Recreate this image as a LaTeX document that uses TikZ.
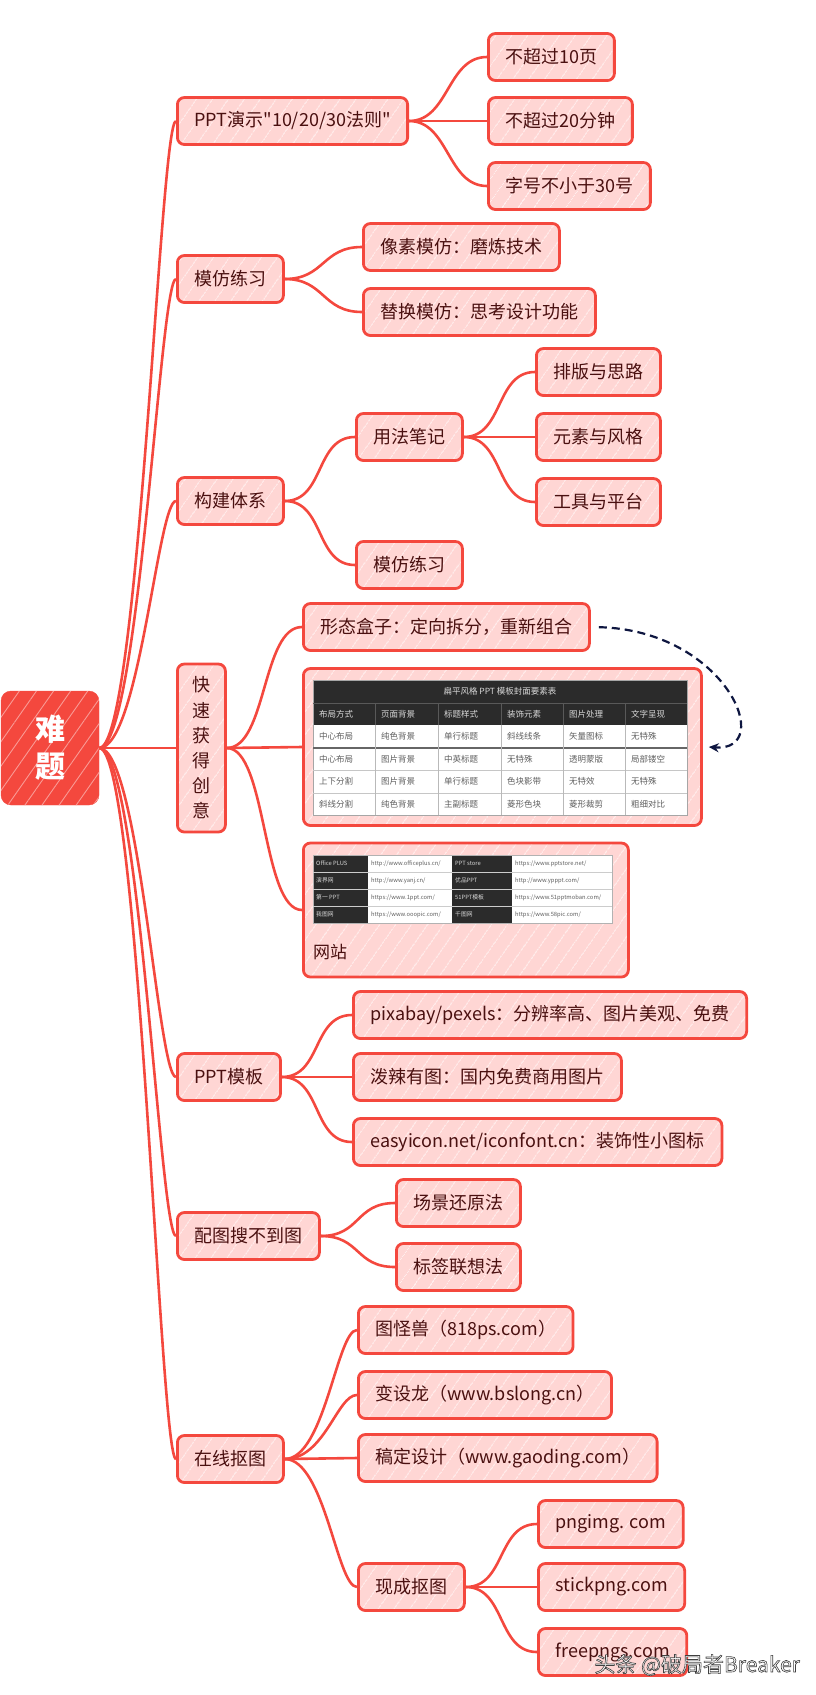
\documentclass[tikz,border=0pt]{standalone}
\usepackage{fontspec}
\setmainfont{Noto Sans CJK SC}[Ligatures=TeXOff]
\usetikzlibrary{patterns.meta,arrows.meta}
\definecolor{mmred}{RGB}{244,72,62}
\definecolor{mmpink}{RGB}{255,214,212}
\definecolor{mmtext}{RGB}{74,16,16}
\definecolor{mmnavy}{RGB}{14,22,64}
\definecolor{tbldark}{RGB}{43,43,43}
\definecolor{tblgray}{RGB}{95,95,95}

\begin{document}
\begin{tikzpicture}[x=1pt,y=-1pt,
  box/.style={draw=mmred,line width=2.8pt,rounded corners=7pt,
    preaction={fill=mmpink},
    preaction={pattern={Lines[angle=55,distance=13pt,line width=0.9pt]},pattern color=white!55!mmpink},
    text=mmtext,font=\fontsize{18}{21}\selectfont,minimum height=47pt,inner xsep=17pt,anchor=west},
  link/.style={draw=mmred,line width=2.6pt},
  cell/.style={font=\fontsize{8.5}{9}\selectfont,text=tblgray,anchor=west,inner sep=0pt},
  hcell/.style={cell,text=white!85!black},
  wcell/.style={font=\fontsize{5.8}{7}\selectfont,text=tblgray,anchor=west,inner sep=0pt},
  wdcell/.style={wcell,text=white!85!black}]
\useasboundingbox (0,0) rectangle (816,1695);

% root
\node[draw=mmred,fill=mmred,rounded corners=10pt,minimum width=98pt,minimum height=114pt,
  postaction={pattern={Lines[angle=55,distance=14pt,line width=0.9pt]},pattern color=white!45!mmred},
  text=white,font=\bfseries\fontsize{30}{37}\selectfont,align=center] (nanti) at (50,748) {难\\题};

% first level
\node[box] (ppt) at (176,121) {PPT演示"10/20/30法则"};
\node[box] (mofang) at (176,279) {模仿练习};
\node[box] (tixi) at (176,501) {构建体系};
\node[box,minimum width=48pt,minimum height=168pt,inner xsep=0pt,align=center,
  font=\fontsize{18}{25.2}\selectfont] (kuai) at (176,748) {快\\速\\获\\得\\创\\意};
\node[box] (moban) at (176,1077) {PPT模板};
\node[box] (peitu) at (176,1236) {配图搜不到图};
\node[box] (koutu) at (176,1459) {在线抠图};

\draw[link] (nanti.east) .. controls +(40,0) and +(-16,0) .. (ppt.west);
\draw[link] (nanti.east) .. controls +(40,0) and +(-16,0) .. (mofang.west);
\draw[link] (nanti.east) .. controls +(40,0) and +(-18,0) .. (tixi.west);
\draw[link] (nanti.east) -- (kuai.west);
\draw[link] (nanti.east) .. controls +(40,0) and +(-18,0) .. (moban.west);
\draw[link] (nanti.east) .. controls +(40,0) and +(-16,0) .. (peitu.west);
\draw[link] (nanti.east) .. controls +(40,0) and +(-16,0) .. (koutu.west);

% PPT演示
\node[box] (ye) at (487,57) {不超过10页};
\node[box] (fen) at (487,121) {不超过20分钟};
\node[box] (hao) at (487,186) {字号不小于30号};
\draw[link] (ppt.east) .. controls +(40,0) and +(-40,0) .. (ye.west);
\draw[link] (ppt.east) -- (fen.west);
\draw[link] (ppt.east) .. controls +(40,0) and +(-40,0) .. (hao.west);

% 模仿练习
\node[box] (xiangsu) at (362,247) {像素模仿：磨炼技术};
\node[box] (tihuan) at (362,312) {替换模仿：思考设计功能};
\draw[link] (mofang.east) .. controls +(40,0) and +(-40,0) .. (xiangsu.west);
\draw[link] (mofang.east) .. controls +(40,0) and +(-40,0) .. (tihuan.west);

% 构建体系
\node[box] (biji) at (355,437) {用法笔记};
\node[box] (lianxi) at (355,565) {模仿练习};
\node[box] (paiban) at (535,372) {排版与思路};
\node[box] (yuansu) at (535,437) {元素与风格};
\node[box] (gongju) at (535,502) {工具与平台};
\draw[link] (tixi.east) .. controls +(40,0) and +(-40,0) .. (biji.west);
\draw[link] (tixi.east) .. controls +(40,0) and +(-40,0) .. (lianxi.west);
\draw[link] (biji.east) .. controls +(40,0) and +(-40,0) .. (paiban.west);
\draw[link] (biji.east) -- (yuansu.west);
\draw[link] (biji.east) .. controls +(40,0) and +(-40,0) .. (gongju.west);

% 快速获得创意
\node[box] (xt) at (302,627) {形态盒子：定向拆分，重新组合};
\node[box,minimum width=398pt,minimum height=157pt] (tbl) at (302,747) {};
\node[box,minimum width=325pt,minimum height=134pt] (wz) at (302,910) {};
\draw[link] (kuai.east) .. controls +(40,0) and +(-40,0) .. (xt.west);
\draw[link] (kuai.east) -- (tbl.west);
\draw[link] (kuai.east) .. controls +(40,0) and +(-40,0) .. (wz.west);
\draw[mmnavy,line width=2.2pt,dash pattern=on 8pt off 5pt,shorten <=8pt,-{Stealth[length=10pt,width=9pt]}]
  (xt.east) .. controls +(135,3) and +(68,5) .. ([xshift=6pt]tbl.east);

% table inside tbl
\fill[tbldark] (313,680) rectangle (687,725);
\fill[white] (313,725) rectangle (687,815);
\draw[gray!70,line width=0.8pt] (313,680) rectangle (687,815);
\draw[gray!45,line width=0.8pt] (313,770) -- (687,770) (313,793) -- (687,793);
\draw[gray!80!black,line width=1.2pt] (313,748) -- (687,748);
\draw[gray!70!black,line width=0.8pt] (375,703) -- (375,725) (438,703) -- (438,725) (501,703) -- (501,725)
  (563,703) -- (563,725) (625,703) -- (625,725) (313,703) -- (687,703);
\draw[gray!55,line width=1pt] (375,725) -- (375,815) (438,725) -- (438,815) (501,725) -- (501,815)
  (563,725) -- (563,815) (625,725) -- (625,815);
\node[hcell,anchor=center] (ttitle) at (500,691.5) {扁平风格 PPT 模板封面要素表};
\node[hcell] at (319,714) {布局方式};
\node[hcell] at (381,714) {页面背景};
\node[hcell] at (444,714) {标题样式};
\node[hcell] at (507,714) {装饰元素};
\node[hcell] at (569,714) {图片处理};
\node[hcell] at (631,714) {文字呈现};
\node[cell] at (319,736.5) {中心布局};
\node[cell] at (381,736.5) {纯色背景};
\node[cell] at (444,736.5) {单行标题};
\node[cell] at (507,736.5) {斜线线条};
\node[cell] at (569,736.5) {矢量图标};
\node[cell] at (631,736.5) {无特殊};
\node[cell] at (319,759) {中心布局};
\node[cell] at (381,759) {图片背景};
\node[cell] at (444,759) {中英标题};
\node[cell] at (507,759) {无特殊};
\node[cell] at (569,759) {透明蒙版};
\node[cell] at (631,759) {局部镂空};
\node[cell] at (319,781.5) {上下分割};
\node[cell] at (381,781.5) {图片背景};
\node[cell] at (444,781.5) {单行标题};
\node[cell] at (507,781.5) {色块影带};
\node[cell] at (569,781.5) {无特效};
\node[cell] at (631,781.5) {无特殊};
\node[cell] at (319,804) {斜线分割};
\node[cell] at (381,804) {纯色背景};
\node[cell] at (444,804) {主副标题};
\node[cell] at (507,804) {菱形色块};
\node[cell] at (569,804) {菱形裁剪};
\node[cell] at (631,804) {粗细对比};

% table inside wz
\fill[tbldark] (313,855) rectangle (368,923);
\fill[white] (368,855) rectangle (452,923);
\fill[tbldark] (452,855) rectangle (512,923);
\fill[white] (512,855) rectangle (612,923);
\draw[gray!60,line width=0.8pt] (313,855) rectangle (612,923);
\draw[gray!40,line width=0.8pt] (313,872) -- (612,872) (313,889) -- (612,889) (313,906) -- (612,906);
\node[wdcell] at (316,863.5) {Office PLUS};
\node[wcell] at (371,863.5) {http://www.officeplus.cn/};
\node[wdcell] at (455,863.5) {PPT store};
\node[wcell] at (515,863.5) {https://www.pptstore.net/};
\node[wdcell] at (316,880.5) {演界网};
\node[wcell] at (371,880.5) {http://www.yanj.cn/};
\node[wdcell] at (455,880.5) {优品PPT};
\node[wcell] at (515,880.5) {http://www.ypppt.com/};
\node[wdcell] at (316,897.5) {第一 PPT};
\node[wcell] at (371,897.5) {https://www.1ppt.com/};
\node[wdcell] at (455,897.5) {51PPT模板};
\node[wcell] at (515,897.5) {https://www.51pptmoban.com/};
\node[wdcell] at (316,914.5) {我图网};
\node[wcell] at (371,914.5) {https://www.ooopic.com/};
\node[wdcell] at (455,914.5) {千图网};
\node[wcell] at (515,914.5) {https://www.58pic.com/};
\node[text=mmtext,font=\fontsize{17}{20}\selectfont,anchor=west,inner sep=0pt] (wzlabel) at (313,952) {网站};

% PPT模板
\node[box] (pixabay) at (352,1015) {pixabay/pexels：分辨率高、图片美观、免费};
\node[box] (pola) at (352,1077) {泼辣有图：国内免费商用图片};
\node[box] (easyicon) at (352,1142) {easyicon.net/iconfont.cn：装饰性小图标};
\draw[link] (moban.east) .. controls +(40,0) and +(-40,0) .. (pixabay.west);
\draw[link] (moban.east) -- (pola.west);
\draw[link] (moban.east) .. controls +(40,0) and +(-40,0) .. (easyicon.west);

% 配图搜不到图
\node[box] (changjing) at (395,1203) {场景还原法};
\node[box] (biaoqian) at (395,1267) {标签联想法};
\draw[link] (peitu.east) .. controls +(40,0) and +(-40,0) .. (changjing.west);
\draw[link] (peitu.east) .. controls +(40,0) and +(-40,0) .. (biaoqian.west);

% 在线抠图
\node[box] (tuguai) at (357,1330) {图怪兽（818ps.com）};
\node[box] (bianshe) at (357,1395) {变设龙（www.bslong.cn）};
\node[box] (gaoding) at (357,1458) {稿定设计（www.gaoding.com）};
\node[box] (xiancheng) at (357,1587) {现成抠图};
\draw[link] (koutu.east) .. controls +(40,0) and +(-20,0) .. (tuguai.west);
\draw[link] (koutu.east) .. controls +(40,0) and +(-20,0) .. (bianshe.west);
\draw[link] (koutu.east) -- (gaoding.west);
\draw[link] (koutu.east) .. controls +(40,0) and +(-20,0) .. (xiancheng.west);
\node[box] (pngimg) at (537,1524) {pngimg. com};
\node[box] (stickpng) at (537,1587) {stickpng.com};
\node[box] (freepngs) at (537,1652) {freepngs.com};
\draw[link] (xiancheng.east) .. controls +(40,0) and +(-40,0) .. (pngimg.west);
\draw[link] (xiancheng.east) -- (stickpng.west);
\draw[link] (xiancheng.east) .. controls +(40,0) and +(-40,0) .. (freepngs.west);

% watermark
\node[anchor=east,font=\fontsize{21}{24}\selectfont,inner sep=0pt] (wm) at (800,1665)
  {\special{pdf:literal direct 1 1 1 rg 0.25 0.25 0.25 RG 2 Tr 0.6 w}头条 @破局者Breaker\special{pdf:literal direct 0 Tr}};
\end{tikzpicture}
\end{document}
